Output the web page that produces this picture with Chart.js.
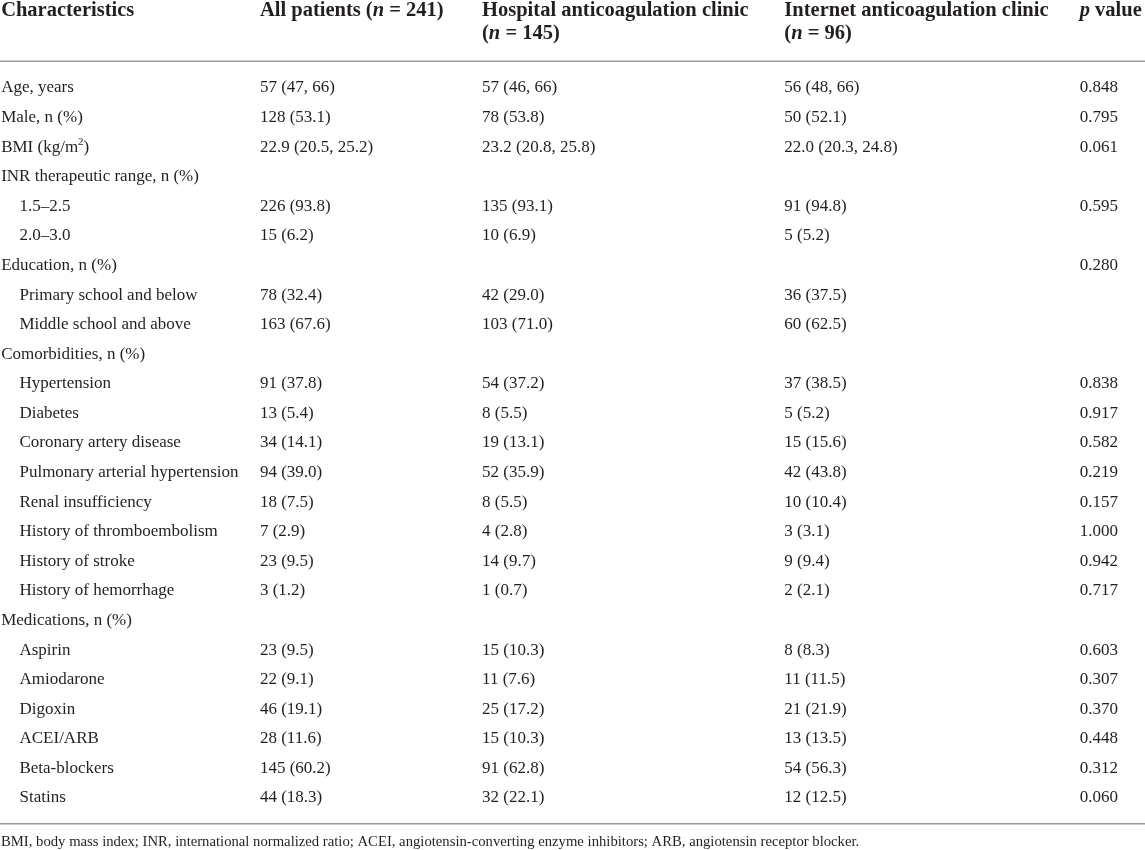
<!DOCTYPE html>
<html>
<head>
<meta charset="utf-8">
<script src="https://cdn.jsdelivr.net/npm/chart.js@4.4.1/dist/chart.umd.min.js"></script>
<style>
  html, body { margin: 0; padding: 0; background: #fff; }
  #wrap { width: 1145px; height: 850px; }
</style>
</head>
<body>
<div id="wrap"><canvas id="tableChart" width="1145" height="850"></canvas></div>
<script>
// table rows (first column)
var characteristics = [
    'Age, years', 'Male, n (%)', 'BMI (kg/m²)', 'INR therapeutic range, n (%)',
    '1.5–2.5', '2.0–3.0', 'Education, n (%)', 'Primary school and below',
    'Middle school and above', 'Comorbidities, n (%)', 'Hypertension', 'Diabetes',
    'Coronary artery disease', 'Pulmonary arterial hypertension', 'Renal insufficiency',
    'History of thromboembolism', 'History of stroke', 'History of hemorrhage',
    'Medications, n (%)', 'Aspirin', 'Amiodarone', 'Digoxin', 'ACEI/ARB',
    'Beta-blockers', 'Statins'
];
var allPatients = [
    '57 (47, 66)', '128 (53.1)', '22.9 (20.5, 25.2)', '', '226 (93.8)', '15 (6.2)', '',
    '78 (32.4)', '163 (67.6)', '', '91 (37.8)', '13 (5.4)', '34 (14.1)', '94 (39.0)',
    '18 (7.5)', '7 (2.9)', '23 (9.5)', '3 (1.2)', '', '23 (9.5)', '22 (9.1)', '46 (19.1)',
    '28 (11.6)', '145 (60.2)', '44 (18.3)'
];
var hospitalClinic = [
    '57 (46, 66)', '78 (53.8)', '23.2 (20.8, 25.8)', '', '135 (93.1)', '10 (6.9)', '',
    '42 (29.0)', '103 (71.0)', '', '54 (37.2)', '8 (5.5)', '19 (13.1)', '52 (35.9)',
    '8 (5.5)', '4 (2.8)', '14 (9.7)', '1 (0.7)', '', '15 (10.3)', '11 (7.6)', '25 (17.2)',
    '15 (10.3)', '91 (62.8)', '32 (22.1)'
];
var internetClinic = [
    '56 (48, 66)', '50 (52.1)', '22.0 (20.3, 24.8)', '', '91 (94.8)', '5 (5.2)', '',
    '36 (37.5)', '60 (62.5)', '', '37 (38.5)', '5 (5.2)', '15 (15.6)', '42 (43.8)',
    '10 (10.4)', '3 (3.1)', '9 (9.4)', '2 (2.1)', '', '8 (8.3)', '11 (11.5)', '21 (21.9)',
    '13 (13.5)', '54 (56.3)', '12 (12.5)'
];
var pValues = [
    '0.848', '0.795', '0.061', '', '0.595', '', '0.280', '', '', '', '0.838', '0.917',
    '0.582', '0.219', '0.157', '1.000', '0.942', '0.717', '', '0.603', '0.307', '0.370',
    '0.448', '0.312', '0.060'
];
var subRows = ['1.5–2.5', '2.0–3.0', 'Primary school and below', 'Middle school and above',
    'Hypertension', 'Diabetes', 'Coronary artery disease', 'Pulmonary arterial hypertension',
    'Renal insufficiency', 'History of thromboembolism', 'History of stroke',
    'History of hemorrhage', 'Aspirin', 'Amiodarone', 'Digoxin', 'ACEI/ARB',
    'Beta-blockers', 'Statins'];
var footnote = 'BMI, body mass index; INR, international normalized ratio; ACEI, angiotensin-converting enzyme inhibitors; ARB, angiotensin receptor blocker.';

// layout: column left edges on a 0-100 x scale
var colX = [0.1, 22.7, 42.1, 68.5, 94.3];
var indentX = 1.6;
var FONT = "'Liberation Serif', 'DejaVu Serif', serif";
var INK = '#231f20';

// header cells, each line is a list of text runs
var headers = [
    [[{ t: 'Characteristics' }]],
    [[{ t: 'All patients (' }, { t: 'n', it: true }, { t: ' = 241)' }]],
    [[{ t: 'Hospital anticoagulation clinic' }], [{ t: '(' }, { t: 'n', it: true }, { t: ' = 145)' }]],
    [[{ t: 'Internet anticoagulation clinic' }], [{ t: '(' }, { t: 'n', it: true }, { t: ' = 96)' }]],
    [[{ t: 'p', it: true }, { t: ' value' }]]
];

var columns = [characteristics, allPatients, hospitalClinic, internetClinic, pValues];

function drawRuns(ctx, runs, x, y, size, bold) {
    runs.forEach(function (r) {
        ctx.font = (r.it ? 'italic ' : '') + (bold ? 'bold ' : '') + size + 'px ' + FONT;
        ctx.fillText(r.t, x, y);
        x += ctx.measureText(r.t).width;
    });
}

var tablePlugin = {
    id: 'tableText',
    afterDraw: function (chart) {
        var ctx = chart.ctx;
        var area = chart.chartArea;
        var xs = chart.scales.x;
        ctx.save();
        ctx.fillStyle = INK;
        ctx.textAlign = 'left';

        // header
        ctx.textBaseline = 'alphabetic';
        headers.forEach(function (lines, c) {
            lines.forEach(function (runs, k) {
                drawRuns(ctx, runs, xs.getPixelForValue(colX[c]), area.top - 57.5 + k * 23.5, 20.5, true);
            });
        });

        // rules
        ctx.strokeStyle = '#9b9b9b';
        ctx.lineWidth = 1.5;
        [area.top - 12, area.bottom + 11].forEach(function (yy) {
            ctx.beginPath();
            ctx.moveTo(area.left, yy);
            ctx.lineTo(area.right, yy);
            ctx.stroke();
        });

        // body cells, positioned by the dataset points
        ctx.textBaseline = 'middle';
        columns.forEach(function (col, c) {
            var meta = chart.getDatasetMeta(c);
            meta.data.forEach(function (pt, i) {
                var txt = col[i];
                if (!txt) return;
                ctx.font = '17px ' + FONT;
                if (txt === 'BMI (kg/m²)') {
                    var base = 'BMI (kg/m';
                    ctx.fillText(base, pt.x, pt.y);
                    var w = ctx.measureText(base).width;
                    ctx.font = '11px ' + FONT;
                    ctx.fillText('2', pt.x + w, pt.y - 5);
                    var w2 = ctx.measureText('2').width;
                    ctx.font = '17px ' + FONT;
                    ctx.fillText(')', pt.x + w + w2, pt.y);
                } else {
                    ctx.fillText(txt, pt.x, pt.y);
                }
            });
        });

        // footnote
        ctx.font = '14.7px ' + FONT;
        ctx.fillText(footnote, area.left + 1, area.bottom + 29);
        ctx.restore();
    }
};

var datasets = columns.map(function (col, c) {
    return {
        label: 'col' + c,
        data: characteristics.map(function (row) {
            var x = colX[c] + (c === 0 && subRows.indexOf(row) >= 0 ? indentX : 0);
            return { x: x, y: row };
        }),
        pointRadius: 0,
        pointHoverRadius: 0,
        showLine: false
    };
});

var ctx = document.getElementById('tableChart').getContext('2d');
var myChart = new Chart(ctx, {
    type: 'scatter',
    data: { datasets: datasets },
    options: {
        responsive: false,
        animation: false,
        events: [],
        layout: { padding: { top: 73.2, bottom: 37.2, left: 0, right: 0 } },
        plugins: { legend: { display: false }, tooltip: { enabled: false } },
        scales: {
            x: { type: 'linear', min: 0, max: 100, display: false },
            y: { type: 'category', labels: characteristics, offset: true, display: false }
        }
    },
    plugins: [tablePlugin]
});
</script>
</body>
</html>
